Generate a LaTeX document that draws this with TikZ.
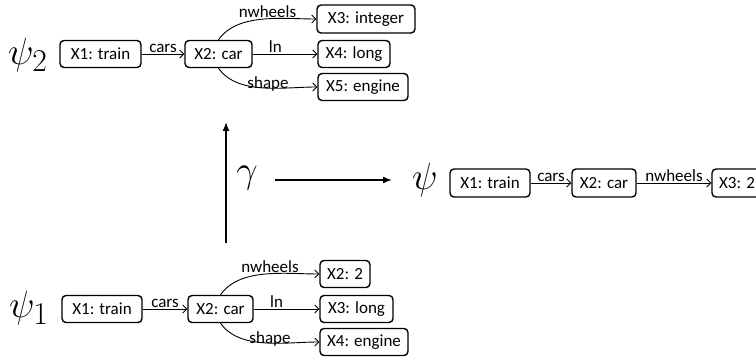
\documentclass[tikz,border=0pt]{standalone}
\usepackage{fontspec}
\setmainfont{Carlito}
\usetikzlibrary{arrows.meta}
\begin{document}
\begin{tikzpicture}[x=1pt,y=1pt,
  box/.style={draw,line width=1.4pt,rounded corners=4pt,minimum height=27pt,inner sep=0pt,font=\fontsize{17}{20}\selectfont},
  rel/.style={-{Straight Barb[length=4pt,width=8pt]},line width=0.9pt},
  lab/.style={font=\fontsize{17}{20}\selectfont,inner sep=1pt},
  big/.style={-{Latex[length=9pt,width=7pt]},line width=1.6pt},
  mth/.style={font=\fontsize{24.88}{30}\selectfont,inner sep=0pt,scale=1.53}]
\useasboundingbox (0,0) rectangle (756,-363);
% top graph psi_2
\node[mth] (p2) at (28,-55) {$\psi_2$};
\node[box,minimum width=81pt] (a1) at (100.5,-54) {X1: train};
\node[box,minimum width=67pt] (a2) at (218.5,-54) {X2: car};
\node[box,minimum width=98pt,minimum height=28pt] (a3) at (366,-19) {X3: integer};
\node[box,minimum width=72pt] (a4) at (354,-54) {X4: long};
\node[box,minimum width=90pt] (a5) at (363,-87) {X5: engine};
\draw[rel] (a1) -- node[lab,above]{cars} (a2);
\draw[rel] (a2) -- node[lab,above,pos=0.35]{ln} (a4);
\draw[rel] (a2.north) to[out=55,in=180,looseness=0.85] node[lab,above,pos=0.55]{nwheels} (a3.west);
\draw[rel] (a2.south) to[out=-55,in=180,looseness=0.85] node[lab,above,pos=0.55,yshift=-5pt]{shape} (a5.west);
% bottom graph psi_1
\node[mth] (p1) at (29,-308) {$\psi_1$};
\node[box,minimum width=80pt] (b1) at (102,-309) {X1: train};
\node[box,minimum width=65pt] (b2) at (220.5,-309) {X2: car};
\node[box,minimum width=50pt] (b3) at (345,-274) {X2: 2};
\node[box,minimum width=73pt] (b4) at (356.5,-309) {X3: long};
\node[box,minimum width=88pt] (b5) at (364,-342) {X4: engine};
\draw[rel] (b1) -- node[lab,above]{cars} (b2);
\draw[rel] (b2) -- node[lab,above,pos=0.35]{ln} (b4);
\draw[rel] (b2.north) to[out=55,in=180,looseness=0.85] node[lab,above,pos=0.55]{nwheels} (b3.west);
\draw[rel] (b2.south) to[out=-55,in=180,looseness=0.85] node[lab,above,pos=0.55,yshift=-5pt]{shape} (b5.west);
% gamma arrows
\coordinate (vs) at (226,-243);
\coordinate (ve) at (226,-122);
\draw[big] (vs) -- (ve);
\node[mth] (g) at (247,-178) {$\gamma$};
\coordinate (hs) at (275,-180);
\coordinate (he) at (392,-180);
\draw[big] (hs) -- (he);
% result psi
\node[mth] (p) at (425,-180) {$\psi$};
\node[box,minimum width=80pt,minimum height=28pt] (c1) at (490,-183) {X1: train};
\node[box,minimum width=64pt,minimum height=28pt] (c2) at (604,-183) {X2: car};
\node[box,minimum width=50pt,minimum height=28pt] (c3) at (737,-183) {X3: 2};
\draw[rel] (c1) -- node[lab,above]{cars} (c2);
\draw[rel] (c2) -- node[lab,above]{nwheels} (c3);
\end{tikzpicture}
\end{document}
